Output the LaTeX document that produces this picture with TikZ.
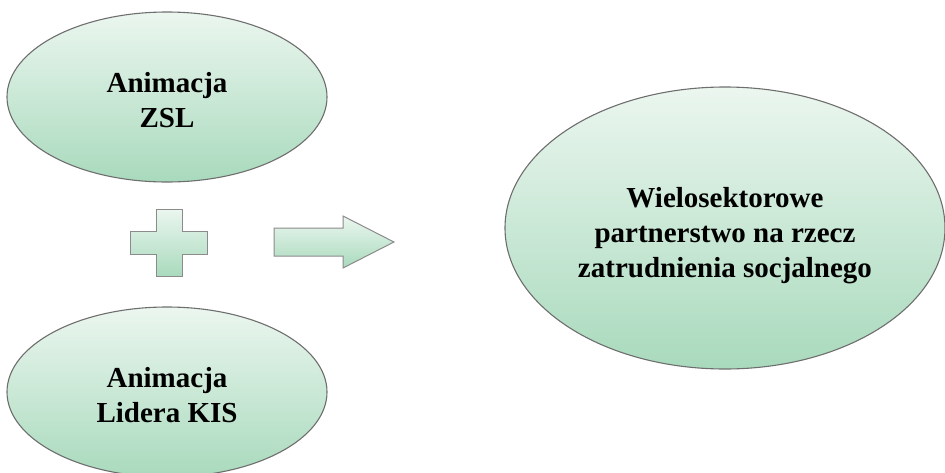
\documentclass[tikz,border=0pt]{standalone}
\usepackage{fontspec}
\setmainfont{Liberation Serif}
\usetikzlibrary{shapes.geometric}
\definecolor{gtop}{HTML}{EBF6EF}
\definecolor{gbot}{HTML}{A9DABD}
\definecolor{edge}{HTML}{6E6E6E}
\tikzset{
  bubble/.style={ellipse, draw=edge, line width=1.1pt, top color=gtop, bottom color=gbot,
    inner sep=0pt},
  lbl/.style={align=center, inner sep=0pt, font=\bfseries\fontsize{29}{35}\selectfont},
  glyph/.style={draw=edge!80, line width=1pt, top color=gtop, bottom color=gbot, line join=miter}
}
\begin{document}
\begin{tikzpicture}[x=1pt,y=-1pt]
\useasboundingbox (0,0) rectangle (945,472);
\begin{scope}
\clip (0,0) rectangle (945,472);
\node[bubble, minimum width=320pt, minimum height=170pt] (zsl) at (167,97) {};
\node[bubble, minimum width=320pt, minimum height=170pt] (kis) at (167,392) {};
\node[bubble, minimum width=440pt, minimum height=282pt] (wp) at (725,228) {};
\end{scope}
\node[lbl] (tzsl) at ([yshift=-3pt]zsl.center) {Animacja\\ZSL};
\node[lbl] (tkis) at ([yshift=-3pt]kis.center) {Animacja\\Lidera KIS};
\node[lbl] (twp) at ([yshift=-8pt]wp.center) {Wielosektorowe\\partnerstwo na rzecz\\zatrudnienia socjalnego};
\draw[glyph] (156,209) -- (182,209) -- (182,231) -- (207,231) -- (207,254) -- (182,254) -- (182,276) -- (156,276) -- (156,254) -- (130,254) -- (130,231) -- (156,231) -- cycle;
\draw[glyph] (274,228) -- (343,228) -- (343,216) -- (394,242) -- (343,268) -- (343,256) -- (274,256) -- cycle;
\end{tikzpicture}
\end{document}
